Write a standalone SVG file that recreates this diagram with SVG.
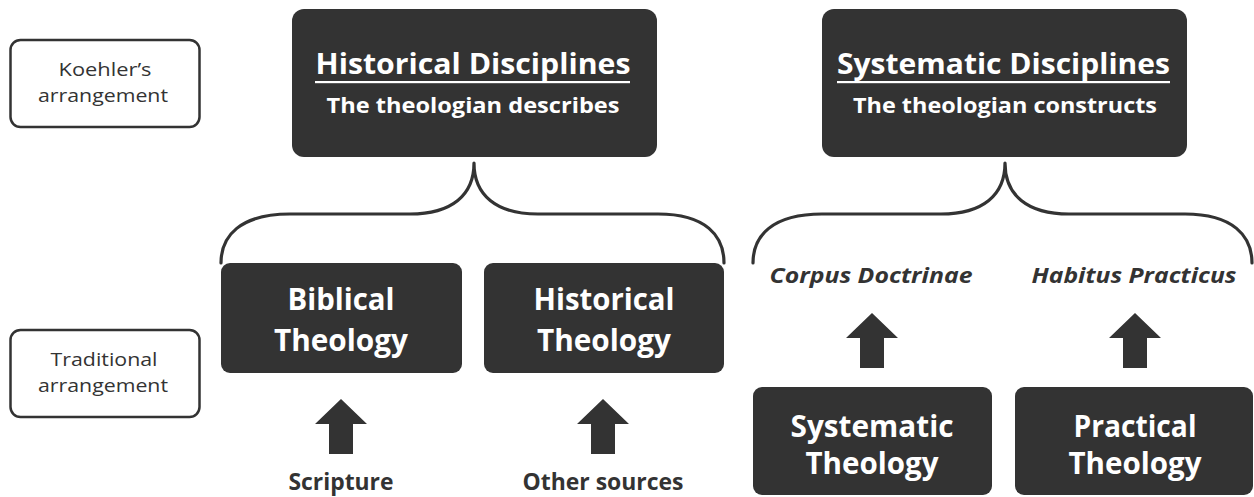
<svg xmlns="http://www.w3.org/2000/svg" width="1254" height="497" viewBox="0 0 1254 497">
<style>
.dark{fill:#333333;}
.label{fill:#ffffff;stroke:#333333;stroke-width:2.5;}
.t{font-family:"Open Sans","Liberation Sans",sans-serif;text-anchor:middle;}
.w{fill:#ffffff;font-weight:bold;}
.g{fill:#333333;}
.brace{fill:none;stroke:#333333;stroke-width:3.2;stroke-linecap:round;stroke-linejoin:round;}
</style>
<defs>
<path id="arrow" d="M0,0 L26,25 L12,25 L12,55 L-12,55 L-12,25 L-26,25 Z"/>
</defs>
<rect width="1254" height="497" fill="#ffffff"/>

<g id="koehler">
<rect class="label" x="10.5" y="40" width="189" height="87" rx="10"/>
<text class="t g" x="105" y="76" font-size="19" textLength="93" lengthAdjust="spacingAndGlyphs">Koehler’s</text>
<text class="t g" x="103" y="102" font-size="19" textLength="130" lengthAdjust="spacingAndGlyphs">arrangement</text>
</g>

<g id="traditional">
<rect class="label" x="10.5" y="330" width="189" height="87" rx="10"/>
<text class="t g" x="104" y="366" font-size="19" textLength="107" lengthAdjust="spacingAndGlyphs">Traditional</text>
<text class="t g" x="103" y="392" font-size="19" textLength="130" lengthAdjust="spacingAndGlyphs">arrangement</text>
</g>

<g id="historical-disciplines">
<rect class="dark" x="292" y="9" width="365" height="148" rx="12"/>
<text class="t w" x="473" y="74" font-size="29" textLength="315" lengthAdjust="spacingAndGlyphs">Historical Disciplines</text>
<rect x="315" y="81" width="315" height="2.2" fill="#ffffff"/>
<text class="t w" x="473" y="113" font-size="22" textLength="293" lengthAdjust="spacingAndGlyphs">The theologian describes</text>
</g>

<g id="systematic-disciplines">
<rect class="dark" x="822" y="9" width="365" height="148" rx="12"/>
<text class="t w" x="1003.5" y="74" font-size="29" textLength="333" lengthAdjust="spacingAndGlyphs">Systematic Disciplines</text>
<rect x="837" y="81" width="333" height="2.2" fill="#ffffff"/>
<text class="t w" x="1005" y="113" font-size="22" textLength="304" lengthAdjust="spacingAndGlyphs">The theologian constructs</text>
</g>

<g id="biblical-theology">
<rect class="dark" x="221" y="263" width="241" height="110" rx="9"/>
<text class="t w" x="341" y="310" font-size="31" textLength="107" lengthAdjust="spacingAndGlyphs">Biblical</text>
<text class="t w" x="341" y="351" font-size="31" textLength="134" lengthAdjust="spacingAndGlyphs">Theology</text>
</g>

<g id="historical-theology">
<rect class="dark" x="484" y="263" width="240" height="110" rx="9"/>
<text class="t w" x="604" y="310" font-size="31" textLength="141" lengthAdjust="spacingAndGlyphs">Historical</text>
<text class="t w" x="604" y="351" font-size="31" textLength="134" lengthAdjust="spacingAndGlyphs">Theology</text>
</g>

<g id="systematic-theology">
<rect class="dark" x="753" y="387" width="239" height="108" rx="9"/>
<text class="t w" x="872" y="437" font-size="30" textLength="163" lengthAdjust="spacingAndGlyphs">Systematic</text>
<text class="t w" x="872" y="474" font-size="30" textLength="133" lengthAdjust="spacingAndGlyphs">Theology</text>
</g>

<g id="practical-theology">
<rect class="dark" x="1015" y="387" width="238" height="108" rx="9"/>
<text class="t w" x="1135" y="437" font-size="30" textLength="123" lengthAdjust="spacingAndGlyphs">Practical</text>
<text class="t w" x="1135" y="474" font-size="30" textLength="133" lengthAdjust="spacingAndGlyphs">Theology</text>
</g>

<g id="corpus-doctrinae">
<text class="t g" x="871" y="283" font-size="22" font-weight="bold" font-style="italic" textLength="203" lengthAdjust="spacingAndGlyphs">Corpus Doctrinae</text>
</g>
<g id="habitus-practicus">
<text class="t g" x="1134" y="283" font-size="22" font-weight="bold" font-style="italic" textLength="205" lengthAdjust="spacingAndGlyphs">Habitus Practicus</text>
</g>
<g id="scripture">
<text class="t g" x="341" y="490" font-size="23" font-weight="bold" textLength="105" lengthAdjust="spacingAndGlyphs">Scripture</text>
</g>
<g id="other-sources">
<text class="t g" x="603" y="490" font-size="23" font-weight="bold" textLength="161" lengthAdjust="spacingAndGlyphs">Other sources</text>
</g>

<g id="connectors">
<path class="brace" d="M221,263 C221,236 240,214 290,214 L410,214 C452,214 474,195 474,163 C474,195 496,214 538,214 L658,214 C706,214 724,236 724,263"/>
<path class="brace" d="M753,263 C753,236 772,214 822,214 L941,214 C983,214 1005,195 1005,163 C1005,195 1027,214 1069,214 L1185,214 C1233,214 1252,236 1252,263"/>
<use href="#arrow" class="dark" x="341" y="399"/>
<use href="#arrow" class="dark" x="603" y="399"/>
<use href="#arrow" class="dark" x="872" y="313"/>
<use href="#arrow" class="dark" x="1135" y="313"/>
</g>
</svg>
